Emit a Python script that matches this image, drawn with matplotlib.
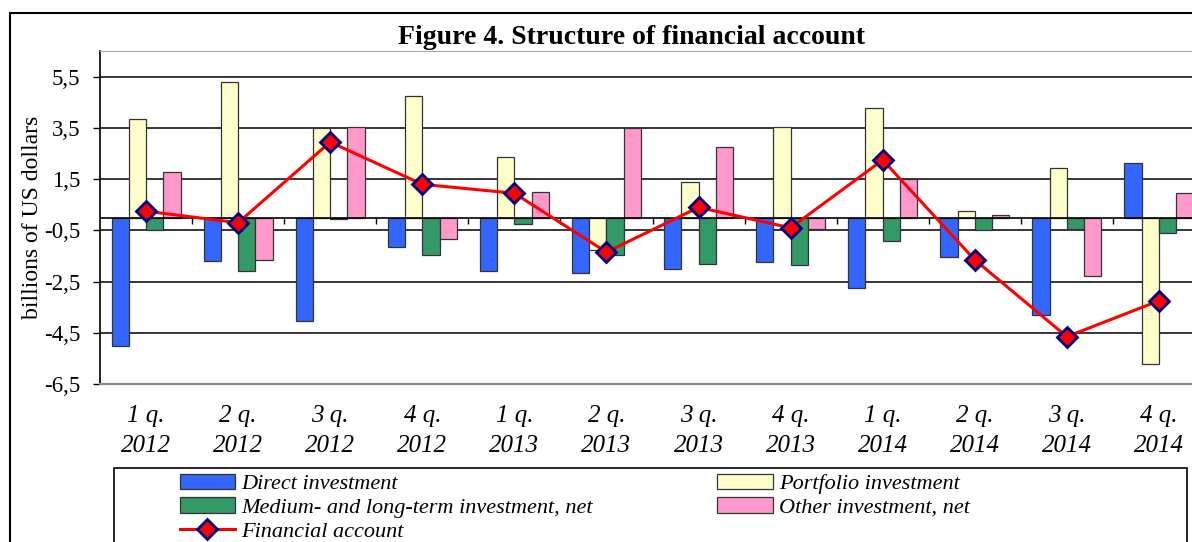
import numpy as np
import matplotlib.pyplot as plt
from matplotlib.patches import Rectangle

plt.rcParams['font.family'] = ['Liberation Serif', 'DejaVu Serif']

quarters = ["1 q.\n2012", "2 q.\n2012", "3 q.\n2012", "4 q.\n2012",
            "1 q.\n2013", "2 q.\n2013", "3 q.\n2013", "4 q.\n2013",
            "1 q.\n2014", "2 q.\n2014", "3 q.\n2014", "4 q.\n2014"]
direct = [-5.0, -1.7, -4.05, -1.15, -2.1, -2.15, -2.0, -1.75, -2.75, -1.55, -3.8, 2.15]
portfolio = [3.85, 5.3, 3.5, 4.75, 2.35, -1.25, 1.4, 3.55, 4.3, 0.25, 1.95, -5.7]
medium = [-0.5, -2.1, -0.05, -1.45, -0.25, -1.45, -1.8, -1.85, -0.9, -0.5, -0.45, -0.6]
other = [1.8, -1.65, 3.55, -0.85, 1.0, 3.5, 2.75, -0.45, 1.5, 0.1, -2.3, 0.95]
fin_acc = [0.25, -0.2, 2.95, 1.3, 0.95, -1.35, 0.4, -0.4, 2.25, -1.65, -4.65, -3.25]

yticks = [5.5, 3.5, 1.5, -0.5, -2.5, -4.5, -6.5]

fig = plt.figure(figsize=(11.92, 5.42), dpi=100)
ax = fig.add_axes([100 / 1192, 1 - 384 / 542, 1105 / 1192, 332.8 / 542])

x = np.arange(len(quarters))
w = 0.1875
series = [(direct, "#3366FF", "Direct investment"),
          (portfolio, "#FFFFCC", "Portfolio investment"),
          (medium, "#339966", "Medium- and long-term investment, net"),
          (other, "#FF99CC", "Other investment, net")]
bars = {}
for i, (vals, col, name) in enumerate(series):
    bars[name] = ax.bar(x + (i - 1.5) * w, vals, width=w, color=col,
                        edgecolor="#333333", linewidth=0.9, zorder=3, label=name)

line, = ax.plot(x, fin_acc, color="red", linewidth=2.2, marker="D", markersize=10,
                markerfacecolor="red", markeredgecolor="#000080", markeredgewidth=2,
                zorder=5, label="Financial account")

ax.set_xlim(-0.5, len(quarters) - 0.5)
ax.set_ylim(-6.5, 6.5)
ax.set_yticks(yticks)
ax.set_yticklabels([f"{v:.1f}".replace(".", ",") for v in yticks], fontsize=16.5)
ax.yaxis.grid(True, color="black", linewidth=1.1, zorder=0)
ax.tick_params(axis="y", length=5, width=1, direction="out", pad=9)

ax.axhline(0, color="black", linewidth=1.2, zorder=4)
ax.vlines(x[:-1] + 0.5, -0.25, 0, color="black", linewidth=1, zorder=4)

ax.set_xticks(x)
ax.set_xticklabels(quarters, fontsize=18, style="italic")
ax.tick_params(axis="x", length=0, pad=15)
for lbl in ax.get_xticklabels():
    lbl.set_linespacing(1.5)

for s in ["top", "right"]:
    ax.spines[s].set_color("#aaaaaa")
ax.spines["left"].set_color("black")
ax.spines["left"].set_linewidth(1.2)
ax.spines["bottom"].set_color("#888888")
ax.spines["bottom"].set_linewidth(1.5)

ax.set_ylabel("billions of US dollars", fontsize=17)
ax.yaxis.set_label_coords(-57 / 1105, 0.5)

fig.text(631 / 1192, 1 - 37 / 542, "Figure 4. Structure of financial account",
         fontsize=20, fontweight="bold", ha="center", va="center")

# outer frame and legend box
fig.patches.append(Rectangle((10 / 1192, -0.1), 1.2, 1.1 - 13 / 542, fill=False,
                             edgecolor="black", linewidth=1.5, transform=fig.transFigure))
fig.patches.append(Rectangle((114 / 1192, -0.1), 1073 / 1192, 0.1 + 1 - 468 / 542,
                             fill=False, edgecolor="black", linewidth=1.2,
                             transform=fig.transFigure))

handles = [bars["Direct investment"], bars["Medium- and long-term investment, net"], line,
           bars["Portfolio investment"], bars["Other investment, net"]]
leg = fig.legend(handles=handles, ncol=2, loc="upper left",
                 bbox_to_anchor=(174 / 1192, 1 - 468 / 542), frameon=False,
                 prop={"size": 16, "style": "italic"}, handlelength=2.5,
                 handleheight=0.7, handletextpad=0.28, labelspacing=0.15,
                 columnspacing=5.6, borderaxespad=0, borderpad=0.25)

plt.savefig("out.png", dpi=100)
